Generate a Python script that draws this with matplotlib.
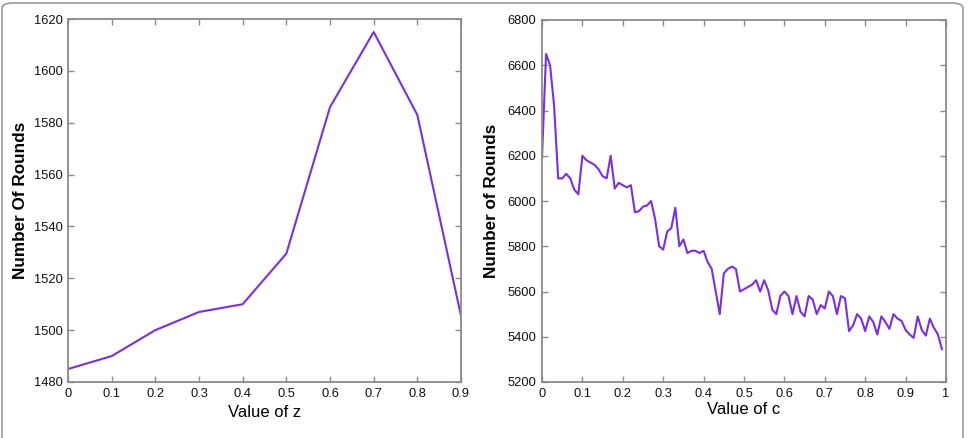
import matplotlib
matplotlib.use('Agg')
import matplotlib.pyplot as plt
from matplotlib.patches import FancyBboxPatch

# 左图：z 取值与轮数
z_values = [0, 0.1, 0.2, 0.25, 0.3, 0.4, 0.5, 0.6, 0.7, 0.8, 0.9]
z_rounds = [1485, 1490, 1500, 1503.5, 1507, 1510, 1529.5, 1586, 1615, 1583, 1505.5]

# 右图：c 取值（步长 0.01）与轮数
c_values = [i / 100 for i in range(100)]
c_rounds = [
    6190, 6650, 6600, 6420, 6100, 6100, 6120, 6100, 6050, 6030,
    6200, 6180, 6170, 6160, 6140, 6110, 6100, 6200, 6055, 6080,
    6070, 6060, 6070, 5950, 5955, 5975, 5980, 6000, 5920, 5800,
    5785, 5865, 5880, 5970, 5800, 5830, 5770, 5780, 5780, 5770,
    5780, 5730, 5700, 5600, 5500, 5680, 5700, 5710, 5700, 5600,
    5610, 5620, 5630, 5650, 5600, 5650, 5605, 5520, 5500, 5580,
    5600, 5580, 5500, 5580, 5510, 5490, 5580, 5565, 5500, 5540,
    5525, 5600, 5580, 5500, 5580, 5570, 5425, 5450, 5500, 5480,
    5425, 5490, 5465, 5410, 5490, 5465, 5435, 5500, 5480, 5470,
    5430, 5410, 5395, 5490, 5430, 5405, 5480, 5440, 5410, 5345,
]

z_ticks = [0, 0.1, 0.2, 0.3, 0.4, 0.5, 0.6, 0.7, 0.8, 0.9]
z_ticklabels = ['0', '0.1', '0.2', '0.3', '0.4', '0.5', '0.6', '0.7', '0.8', '0.9']
c_ticks = [0, 0.1, 0.2, 0.3, 0.4, 0.5, 0.6, 0.7, 0.8, 0.9, 1.0]
c_ticklabels = ['0', '0.1', '0.2', '0.3', '0.4', '0.5', '0.6', '0.7', '0.8', '0.9', '1']

plt.rcParams['font.family'] = ['Liberation Sans', 'DejaVu Sans']

line_color = '#7a2fe0'
spine_color = '#8a8a8a'
W, H = 970, 438

fig = plt.figure(figsize=(W / 100, H / 100), dpi=100)

# 外框（圆角）
frame = FancyBboxPatch((2 / W, -0.1), 961 / W, (H - 3) / H + 0.1,
                       boxstyle='round,pad=0,rounding_size=0.012',
                       transform=fig.transFigure, fill=False,
                       edgecolor='#9a9a9a', linewidth=1.2)
fig.patches.append(frame)


def style_axes(ax):
    for s in ax.spines.values():
        s.set_color(spine_color)
        s.set_linewidth(1.3)
    ax.tick_params(direction='in', length=4, width=1, color=spine_color,
                   top=True, right=True, labelsize=9.3, pad=4,
                   labelcolor='#111111')


ax1 = fig.add_axes([68 / W, 56 / H, 393 / W, 363 / H])
ax1.plot(z_values, z_rounds, color=line_color, linewidth=1.5)
ax1.set_xlim(0, 0.9)
ax1.set_ylim(1480, 1620)
ax1.set_xticks(z_ticks)
ax1.set_xticklabels(z_ticklabels)
ax1.set_yticks(range(1480, 1621, 20))
ax1.set_xlabel('Value of z', fontsize=12, labelpad=4)
ax1.set_ylabel('Number Of Rounds', fontsize=12.3, fontweight='bold', labelpad=4)
style_axes(ax1)

ax2 = fig.add_axes([542 / W, 56 / H, 404 / W, 362 / H])
ax2.plot(c_values, c_rounds, color=line_color, linewidth=1.5)
ax2.set_xlim(0, 1)
ax2.set_ylim(5200, 6800)
ax2.set_xticks(c_ticks)
ax2.set_xticklabels(c_ticklabels)
ax2.set_yticks(range(5200, 6801, 200))
ax2.set_xlabel('Value of c', fontsize=12, labelpad=2)
ax2.set_ylabel('Number of Rounds', fontsize=12.3, fontweight='bold', labelpad=6)
style_axes(ax2)

fig.savefig('out.png', dpi=100)
